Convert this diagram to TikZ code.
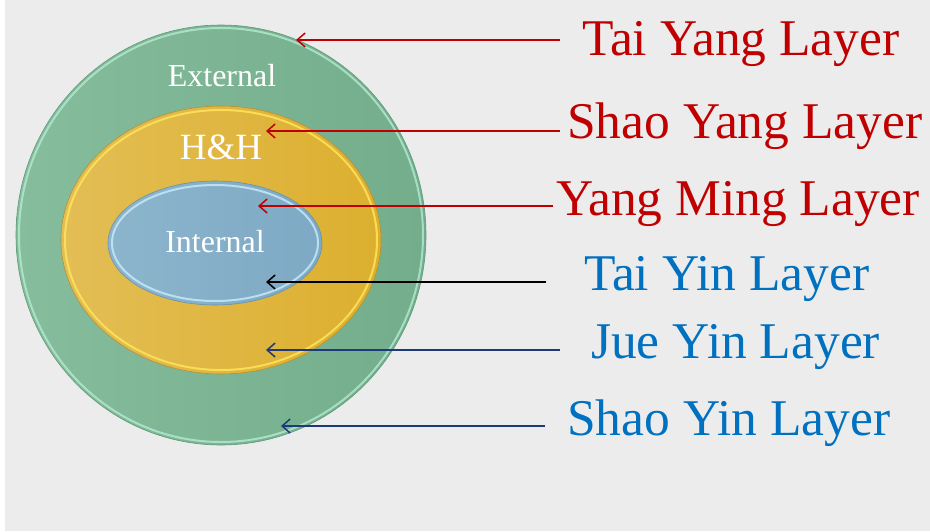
\documentclass[tikz,border=0pt]{standalone}
\usepackage{fontspec}
\setmainfont{Liberation Serif}
\usetikzlibrary{arrows.meta}
\definecolor{bgc}{HTML}{ECECEC}
\definecolor{redc}{HTML}{C00000}
\definecolor{bluec}{HTML}{0070C0}
\definecolor{navyc}{HTML}{1F3A78}
\definecolor{grL}{HTML}{86BD9C}
\definecolor{grR}{HTML}{73AD8C}
\definecolor{grRim}{HTML}{B4EAD2}
\definecolor{grEdge}{HTML}{5E9A78}
\definecolor{yeL}{HTML}{E3BE55}
\definecolor{yeR}{HTML}{DCAF2E}
\definecolor{yeRim}{HTML}{FFE45A}
\definecolor{yeEdge}{HTML}{B89030}
\definecolor{blL}{HTML}{8CB5CD}
\definecolor{blR}{HTML}{7EA9C4}
\definecolor{blRim}{HTML}{C4E8F8}
\definecolor{blEdge}{HTML}{6A92AC}
\tikzset{
  x=1pt, y=-1pt,
  lab/.style={anchor=base west, inner sep=0pt, font=\fontsize{51.5}{51.5}\selectfont},
  inlab/.style={anchor=base, inner sep=0pt, text=white},
  arr/.style={line width=1.5pt, -{Straight Barb[length=8pt,width=14pt,line width=1.5pt]}},
}
\begin{document}
\begin{tikzpicture}
\useasboundingbox (0,0) rectangle (930,531);
\fill[white] (0,0) rectangle (930,531);
\fill[bgc] (5,0) rectangle (930,531);
% outer green
\shade[left color=grL, right color=grR, draw=grEdge, line width=0.6pt]
  (221,235) ellipse [x radius=205pt, y radius=210pt];
\draw[grRim, line width=2pt, opacity=0.8] (221,235) ellipse [x radius=202pt, y radius=207pt];
% yellow
\shade[left color=yeL, right color=yeR, draw=yeEdge, line width=0.6pt]
  (221,240) ellipse [x radius=160pt, y radius=134pt];
\draw[yeRim, line width=2pt, opacity=0.85] (221,240) ellipse [x radius=156pt, y radius=130pt];
% blue
\shade[left color=blL, right color=blR, draw=blEdge, line width=0.6pt]
  (215,243) ellipse [x radius=107pt, y radius=62pt];
\draw[blRim, line width=2pt, opacity=0.85] (215,243) ellipse [x radius=103pt, y radius=58pt];
% inner labels
\node[inlab, font=\fontsize{32}{32}\selectfont] (ext) at (222,86) {External};
\node[inlab, font=\fontsize{37}{37}\selectfont] (hh) at (221,159) {H\&H};
\node[inlab, font=\fontsize{32}{32}\selectfont] (int) at (215,252) {Internal};
% right labels
\node[lab, text=redc] (l1) at (582,55) {Tai Yang Layer};
\node[lab, text=redc] (l2) at (567,138) {Shao Yang Layer};
\node[lab, text=redc] (l3) at (556,215) {Yang Ming Layer};
\node[lab, text=bluec] (l4) at (584,290) {Tai Yin Layer};
\node[lab, text=bluec] (l5) at (591,358) {Jue Yin Layer};
\node[lab, text=bluec] (l6) at (567,435) {Shao Yin Layer};
% arrow ends
\coordinate (s1) at (560,40);  \coordinate (t1) at (296,40);
\coordinate (s2) at (560,131); \coordinate (t2) at (266,131);
\coordinate (s3) at (553,206); \coordinate (t3) at (258,206);
\coordinate (s4) at (546,282); \coordinate (t4) at (266,282);
\coordinate (s5) at (560,350); \coordinate (t5) at (266,350);
\coordinate (s6) at (545,426); \coordinate (t6) at (281,426);
\draw[arr, redc] (s1) -- (t1);
\draw[arr, redc] (s2) -- (t2);
\draw[arr, redc] (s3) -- (t3);
\draw[arr, black] (s4) -- (t4);
\draw[arr, navyc] (s5) -- (t5);
\draw[arr, navyc] (s6) -- (t6);
\end{tikzpicture}
\end{document}
